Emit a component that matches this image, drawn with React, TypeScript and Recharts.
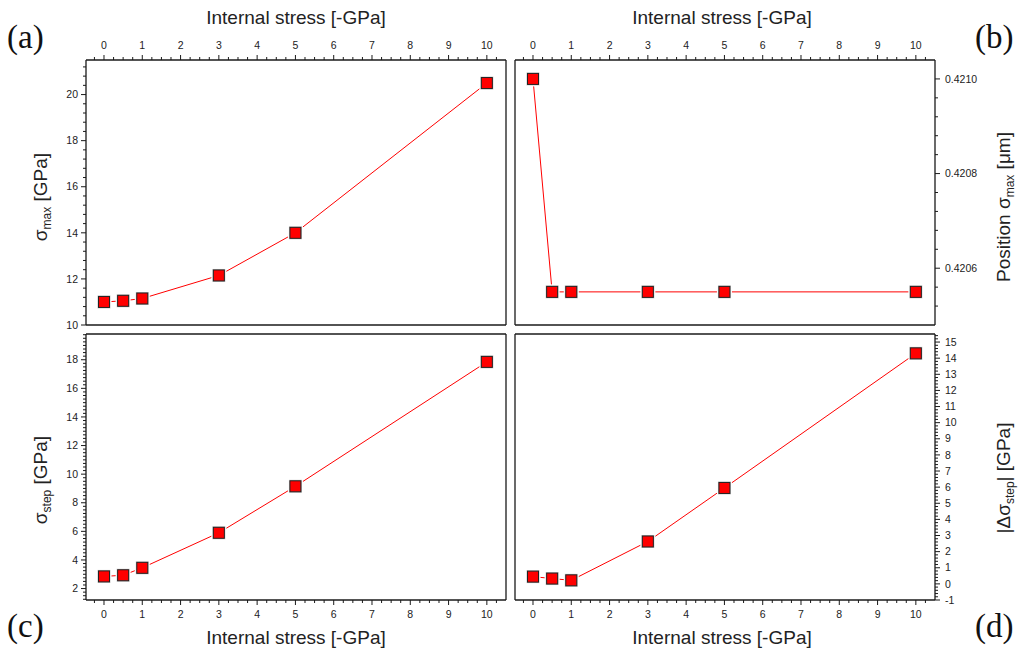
import React from "react";
import { LineChart, Line, XAxis, YAxis } from "recharts";

// internal stress steps (x) shared by all four panels
const stress = [0, 0.5, 1, 3, 5, 10];

// (a) peak stress, (b) its position, (c) step stress, (d) step change
const sigmaMax = [11.0, 11.05, 11.15, 12.15, 14.0, 20.5];
const sigmaMaxPosition = [0.421, 0.42055, 0.42055, 0.42055, 0.42055, 0.42055];
const sigmaStep = [2.85, 2.93, 3.45, 5.9, 9.15, 17.85];
const deltaSigmaStep = [0.45, 0.33, 0.22, 2.63, 5.95, 14.3];

// major tick labels
const stressTicks = [0, 1, 2, 3, 4, 5, 6, 7, 8, 9, 10];
const sigmaMaxTicks = [10, 12, 14, 16, 18, 20];
const positionTicks = [0.4206, 0.4208, 0.421];
const sigmaStepTicks = [2, 4, 6, 8, 10, 12, 14, 16, 18];
const deltaTicks = [-1, 0, 1, 2, 3, 4, 5, 6, 7, 8, 9, 10, 11, 12, 13, 14, 15];

const W = 1019;
const H = 650;
const SANS = "'Liberation Sans', Arial, sans-serif";
const SERIF = "'Liberation Serif', 'Times New Roman', serif";
const AXIS = "#1a1a1a";
const AX = 2; // thickness reserved for each axis

function steps(start: number, end: number, step: number) {
  const out: number[] = [];
  const n = Math.round((end - start) / step);
  for (let i = 0; i <= n; i++) out.push(+(start + i * step).toFixed(6));
  return out;
}

const stressMinor = steps(-0.25, 10.25, 0.25);

type Side = "left" | "right" | "top" | "bottom";

function AxisTick(props: any) {
  const { x, y, payload, side, majors, fmt } = props;
  const v = payload.value;
  const major = majors.some((m: number) => Math.abs(m - v) < 1e-9);
  const len = major ? 5 : 3;
  const label = major ? fmt(v) : null;
  const txt = { fontFamily: SANS, fontSize: 10.5, fill: "#222" };
  if (side === "left")
    return (
      <g>
        <line x1={x} x2={x - len} y1={y} y2={y} stroke={AXIS} />
        {label && <text {...txt} x={x - 8} y={y} dy="0.35em" textAnchor="end">{label}</text>}
      </g>
    );
  if (side === "right")
    return (
      <g>
        <line x1={x} x2={x + len} y1={y} y2={y} stroke={AXIS} />
        {label && <text {...txt} x={x + 10} y={y} dy="0.35em" textAnchor="start">{label}</text>}
      </g>
    );
  if (side === "top")
    return (
      <g>
        <line x1={x} x2={x} y1={y} y2={y - len} stroke={AXIS} />
        {label && <text {...txt} x={x} y={y - 11} textAnchor="middle">{label}</text>}
      </g>
    );
  return (
    <g>
      <line x1={x} x2={x} y1={y} y2={y + len} stroke={AXIS} />
      {label && <text {...txt} x={x} y={y + 18} textAnchor="middle">{label}</text>}
    </g>
  );
}

function SquareDot(props: any) {
  const { cx, cy } = props;
  if (cx == null || cy == null) return null;
  return (
    <g>
      <rect x={cx - 7.5} y={cy - 7.5} width={15} height={15} fill="#fff" />
      <rect x={cx - 6.5} y={cy - 6.5} width={13} height={13} fill="#c8c8c8" />
      <rect x={cx - 5.5} y={cy - 5.5} width={11} height={11} fill="#ff0000" stroke="#222" strokeWidth={1} />
    </g>
  );
}

type Panel = {
  box: [number, number, number, number]; // left, top, right, bottom of plot area
  xSide: Side;
  ySide: Side;
  values: number[];
  yDomain: [number, number];
  yMajors: number[];
  yMinor: number[];
  yFmt: (v: number) => string;
};

const panels: Panel[] = [
  {
    box: [86, 60, 506, 325],
    xSide: "top",
    ySide: "left",
    values: sigmaMax,
    yDomain: [10, 21.5],
    yMajors: sigmaMaxTicks,
    yMinor: steps(10, 21.2, 0.4),
    yFmt: (v) => String(v),
  },
  {
    box: [515, 60, 935, 325],
    xSide: "top",
    ySide: "right",
    values: sigmaMaxPosition,
    yDomain: [0.42048, 0.42104],
    yMajors: positionTicks,
    yMinor: steps(0.42052, 0.421, 0.00004),
    yFmt: (v) => v.toFixed(4),
  },
  {
    box: [86, 334, 506, 600],
    xSide: "bottom",
    ySide: "left",
    values: sigmaStep,
    yDomain: [1.2, 19.8],
    yMajors: sigmaStepTicks,
    yMinor: steps(1.25, 19.75, 0.25),
    yFmt: (v) => String(v),
  },
  {
    box: [515, 334, 935, 600],
    xSide: "bottom",
    ySide: "right",
    values: deltaSigmaStep,
    yDomain: [-1, 15.5],
    yMajors: deltaTicks,
    yMinor: steps(-1, 15.4, 0.2),
    yFmt: (v) => String(v),
  },
];

const X_DOMAIN: [number, number] = [-0.47, 10.5];

function PanelChart({ p }: { p: Panel }) {
  const [l, t, r, b] = p.box;
  const data = stress.map((s, i) => ({ s, v: p.values[i] }));
  const oppX: Side = p.xSide === "top" ? "bottom" : "top";
  const oppY: Side = p.ySide === "left" ? "right" : "left";
  const axisLine = { stroke: AXIS, strokeWidth: 1.3 };
  return (
    <div style={{ position: "absolute", left: 0, top: 0 }}>
      <LineChart
        width={W}
        height={H}
        data={data}
        margin={{ left: l - AX, top: t - AX, right: W - r - AX, bottom: H - b - AX }}
      >
        <XAxis
          xAxisId="main"
          dataKey="s"
          type="number"
          domain={X_DOMAIN}
          allowDataOverflow
          orientation={p.xSide as any}
          height={AX}
          ticks={stressMinor}
          interval={0}
          tickSize={0}
          tickMargin={0}
          tickLine={false}
          axisLine={axisLine}
          tick={<AxisTick side={p.xSide} majors={stressTicks} fmt={(v: number) => String(v)} />}
        />
        <XAxis
          xAxisId="frame"
          dataKey="s"
          type="number"
          domain={X_DOMAIN}
          allowDataOverflow
          orientation={oppX as any}
          height={AX}
          ticks={[0]}
          tick={false}
          tickLine={false}
          axisLine={axisLine}
        />
        <YAxis
          yAxisId="main"
          dataKey="v"
          type="number"
          domain={p.yDomain}
          allowDataOverflow
          orientation={p.ySide as any}
          width={AX}
          ticks={p.yMinor}
          interval={0}
          tickSize={0}
          tickMargin={0}
          tickLine={false}
          axisLine={axisLine}
          tick={<AxisTick side={p.ySide} majors={p.yMajors} fmt={p.yFmt} />}
        />
        <YAxis
          yAxisId="frame"
          dataKey="v"
          type="number"
          domain={p.yDomain}
          allowDataOverflow
          orientation={oppY as any}
          width={AX}
          ticks={[p.yMajors[0]]}
          tick={false}
          tickLine={false}
          axisLine={axisLine}
        />
        <Line
          xAxisId="main"
          yAxisId="main"
          dataKey="v"
          type="linear"
          stroke="#ff0000"
          strokeWidth={1}
          dot={<SquareDot />}
          activeDot={false}
          isAnimationActive={false}
        />
      </LineChart>
    </div>
  );
}

const titleStyle = { fontFamily: SANS, fontSize: 19, fill: "#222" };
const letterStyle = { fontFamily: SERIF, fontSize: 33, fill: "#111" };
const sub = { fontSize: 12 };

function Annotations() {
  return (
    <svg width={W} height={H} style={{ position: "absolute", left: 0, top: 0, pointerEvents: "none" }}>
      <text {...titleStyle} x={296} y={24} textAnchor="middle">Internal stress [-GPa]</text>
      <text {...titleStyle} x={722} y={24} textAnchor="middle">Internal stress [-GPa]</text>
      <text {...titleStyle} x={296} y={644} textAnchor="middle">Internal stress [-GPa]</text>
      <text {...titleStyle} x={722} y={644} textAnchor="middle">Internal stress [-GPa]</text>

      <text {...titleStyle} transform="rotate(-90 47 197)" x={47} y={197} textAnchor="middle">
        σ<tspan {...sub} dy={4}>max</tspan>
        <tspan dy={-4}> [GPa]</tspan>
      </text>
      <text {...titleStyle} transform="rotate(-90 47 480)" x={47} y={480} textAnchor="middle">
        σ<tspan {...sub} dy={4}>step</tspan>
        <tspan dy={-4}> [GPa]</tspan>
      </text>
      <text {...titleStyle} transform="rotate(-90 1010 207)" x={1010} y={207} textAnchor="middle">
        Position σ<tspan {...sub} dy={4}>max</tspan>
        <tspan dy={-4}> [μm]</tspan>
      </text>
      <text {...titleStyle} transform="rotate(-90 1010 478)" x={1010} y={478} textAnchor="middle">
        |Δσ<tspan {...sub} dy={4}>step</tspan>
        <tspan dy={-4}>| [GPa]</tspan>
      </text>

      <text {...letterStyle} x={7} y={48}>(a)</text>
      <text {...letterStyle} x={975} y={48}>(b)</text>
      <text {...letterStyle} x={7} y={637}>(c)</text>
      <text {...letterStyle} x={975} y={637}>(d)</text>
    </svg>
  );
}

export default function App() {
  return (
    <div style={{ position: "fixed", left: 0, top: 0, width: W, height: H, background: "#fff" }}>
      {panels.map((p, i) => (
        <PanelChart key={i} p={p} />
      ))}
      <Annotations />
    </div>
  );
}
